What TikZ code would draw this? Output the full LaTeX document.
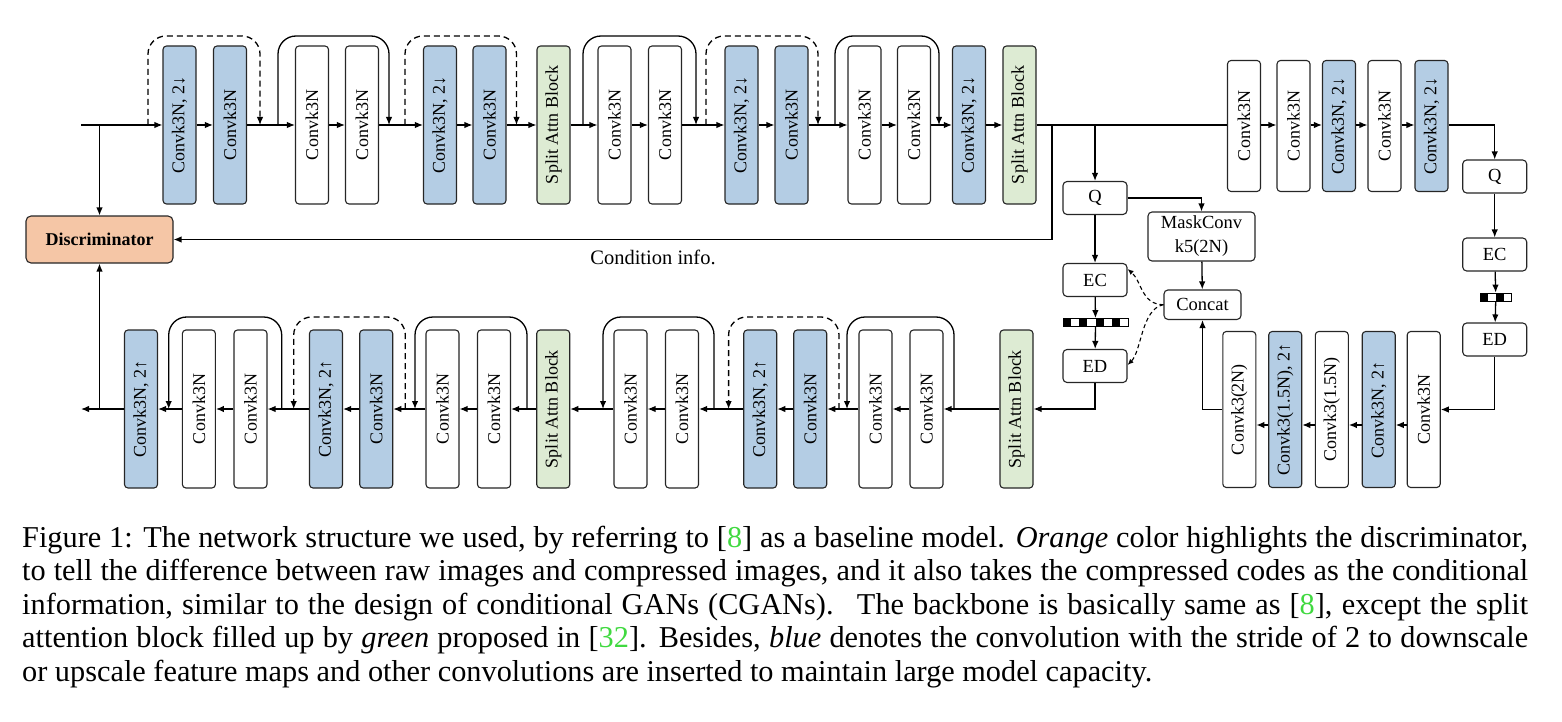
\documentclass[tikz,border=0pt]{standalone}
\usepackage{fontspec}
\usepackage{graphicx}
\setmainfont{Liberation Serif}
\usetikzlibrary{arrows.meta,calc}
\definecolor{bbl}{HTML}{B4CDE4}
\definecolor{ggr}{HTML}{DDEBD3}
\definecolor{oor}{HTML}{F5C6A6}
\definecolor{citeg}{rgb}{0.25,0.85,0.25}
\newcommand{\vtxt}[1]{\rotatebox{90}{#1}}
\newcommand{\cit}[1]{[{\color{citeg}#1}]}
\tikzset{
 blk/.style={draw=black!85, line width=1.1pt, rounded corners=3.5pt, minimum width=33pt, minimum height=158pt, inner sep=0pt, font=\fontsize{18}{20}\selectfont},
 wb/.style={blk, fill=white},
 bb/.style={blk, fill=bbl},
 gb/.style={blk, fill=ggr},
 rw/.style={wb, minimum height=131pt},
 rbb/.style={bb, minimum height=131pt},
 qw/.style={wb, minimum height=156pt},
 qb/.style={bb, minimum height=156pt},
 sbox/.style={draw=black!85, line width=1.1pt, rounded corners=4pt, minimum width=64pt, minimum height=33pt, inner sep=0pt, font=\fontsize{18.5}{24}\selectfont, fill=white},
 arr/.style={line width=1.3pt, -{Latex[length=8pt,width=6.5pt]}},
 ln/.style={line width=1.3pt},
 sk/.style={line width=1.3pt, rounded corners=18pt, -{Latex[length=8pt,width=6.5pt]}},
 dsk/.style={sk, dash pattern=on 6pt off 4pt},
 dcurve/.style={line width=1.1pt, dash pattern=on 4pt off 3pt, -{Latex[length=6pt,width=5pt]}},
}
\begin{document}
\begin{tikzpicture}[x=1pt,y=-1pt]
\useasboundingbox (0,0) rectangle (1562,722);
% ---------- top row ----------
\node[bb] (t1) at (179.5,125) {\vtxt{Convk3N, 2↓}};
\node[bb] (t2) at (230,125) {\vtxt{Convk3N}};
\node[wb] (t3) at (312,125) {\vtxt{Convk3N}};
\node[wb] (t4) at (362,125) {\vtxt{Convk3N}};
\node[bb] (t5) at (440,125) {\vtxt{Convk3N, 2↓}};
\node[bb] (t6) at (489.5,125) {\vtxt{Convk3N}};
\node[gb] (t7) at (553.5,125) {\vtxt{Split Attn Block}};
\node[wb] (t8) at (614.5,125) {\vtxt{Convk3N}};
\node[wb] (t9) at (665,125) {\vtxt{Convk3N}};
\node[bb] (t10) at (741.5,125) {\vtxt{Convk3N, 2↓}};
\node[bb] (t11) at (791.5,125) {\vtxt{Convk3N}};
\node[wb] (t12) at (864.5,125) {\vtxt{Convk3N}};
\node[wb] (t13) at (914,125) {\vtxt{Convk3N}};
\node[bb] (t14) at (969,125) {\vtxt{Convk3N, 2↓}};
\node[gb] (t15) at (1019.5,125) {\vtxt{Split Attn Block}};
% ---------- hyper encoder ----------
\node[rw] (r1) at (1244,126) {\vtxt{Convk3N}};
\node[rw] (r2) at (1293.5,126) {\vtxt{Convk3N}};
\node[rbb] (r3) at (1339,126) {\vtxt{Convk3N, 2↓}};
\node[rw] (r4) at (1384.5,126) {\vtxt{Convk3N}};
\node[rbb] (r5) at (1431.5,126) {\vtxt{Convk3N, 2↓}};
% ---------- bottom row ----------
\node[bb] (b1) at (141,409) {\vtxt{Convk3N, 2↑}};
\node[wb] (b2) at (198.9,409) {\vtxt{Convk3N}};
\node[wb] (b3) at (250.5,409) {\vtxt{Convk3N}};
\node[bb] (b4) at (326,409) {\vtxt{Convk3N, 2↑}};
\node[bb] (b5) at (376.2,409) {\vtxt{Convk3N}};
\node[wb] (b6) at (442.5,409) {\vtxt{Convk3N}};
\node[wb] (b7) at (494,409) {\vtxt{Convk3N}};
\node[gb] (b8) at (553.2,409) {\vtxt{Split Attn Block}};
\node[wb] (b9) at (630.5,409) {\vtxt{Convk3N}};
\node[wb] (b10) at (682,409) {\vtxt{Convk3N}};
\node[bb] (b11) at (760.2,409) {\vtxt{Convk3N, 2↑}};
\node[bb] (b12) at (810.2,409) {\vtxt{Convk3N}};
\node[wb] (b13) at (875.5,409) {\vtxt{Convk3N}};
\node[wb] (b14) at (926.5,409) {\vtxt{Convk3N}};
\node[gb] (b15) at (1016.5,409) {\vtxt{Split Attn Block}};
% ---------- hyper decoder ----------
\node[qw] (br1) at (1239.3,409.5) {\vtxt{Convk3(2N)}};
\node[qb] (br2) at (1285.2,409.5) {\vtxt{Convk3(1.5N), 2↑}};
\node[qw] (br3) at (1331.8,409.5) {\vtxt{Convk3(1.5N)}};
\node[qb] (br4) at (1378.7,409.5) {\vtxt{Convk3N, 2↑}};
\node[qw] (br5) at (1423.7,409.5) {\vtxt{Convk3N}};
% ---------- small boxes ----------
\node[sbox] (Q1) at (1095,198) {Q};
\node[sbox] (EC1) at (1095,280) {EC};
\node[sbox] (ED1) at (1095,366) {ED};
\node[sbox, minimum width=107pt, minimum height=49pt, align=center] (mask) at (1201.5,236.5) {MaskConv\\k5(2N)};
\node[sbox, minimum width=77pt, minimum height=29.5pt] (concat) at (1202.5,304.7) {Concat};
\node[sbox] (Q2) at (1494.7,176.5) {Q};
\node[sbox] (EC2) at (1494.7,254.5) {EC};
\node[sbox] (ED2) at (1494.7,339.5) {ED};
\node[draw=black!85, line width=1.1pt, fill=oor, rounded corners=5pt, minimum width=147pt, minimum height=47pt, font=\bfseries\fontsize{18}{21}\selectfont] (disc) at (99.5,239.5) {Discriminator};
% quantized bars
\foreach \i in {0,2,4,6} \fill (1063+\i*8.125,318.5) rectangle ++(8.125,7.5);
\node[draw=black, line width=0.8pt, minimum width=65pt, minimum height=7.5pt, inner sep=0pt] (bar1) at (1095.5,322.25) {};
\foreach \i in {0,2} \fill (1480+\i*7.9,293) rectangle ++(7.9,8.5);
\node[draw=black, line width=0.8pt, minimum width=31.6pt, minimum height=8.5pt, inner sep=0pt] (bar2) at (1495.8,297.25) {};
% ---------- coordinates ----------
\coordinate (in) at (81,125);
\coordinate (out) at (81,409);
\coordinate (cj) at (1052,125);
\coordinate (brl) at (0,425);
% ---------- top row connectors ----------
\draw[arr] (in) -- (t1.west);
\draw[arr] (disc.north |- in) -- (disc.north);
\foreach \a/\b in {t1/t2,t2/t3,t3/t4,t4/t5,t5/t6,t6/t7,t7/t8,t8/t9,t9/t10,t10/t11,t11/t12,t12/t13,t13/t14,t14/t15}
  \draw[arr] (\a.east) -- (\b.west);
\foreach \a/\b in {r1/r2,r2/r3,r3/r4,r4/r5}
  \draw[arr] (\a.east |- t15.east) -- (\b.west |- t15.east);
\draw[ln] (t15.east) -- (r1.west |- t15.east);
\draw[arr] (cj) |- (disc.east);
\node[font=\fontsize{20.5}{24}\selectfont] (cond) at (653,257) {Condition info.};
\draw[arr] (Q1.north |- t15.east) -- (Q1.north);
\draw[arr] (r5.east |- t15.east) -| (Q2.north);
\draw[arr] (Q2) -- (EC2);
\draw[arr] (EC2) -- (bar2);
\draw[arr] (bar2) -- (ED2);
\draw[arr] (ED2.south) |- (br5.east);
\foreach \a/\b in {br5/br4,br4/br3,br3/br2,br2/br1}
  \draw[arr] (\a.west |- brl) -- (\b.east |- brl);
\draw[arr] (br1.west) -| (concat.south);
\draw[arr] (Q1.east) -| (mask.north);
\draw[arr] (mask) -- (concat);
\draw[arr] (Q1) -- (EC1);
\draw[arr] (EC1) -- (bar1);
\draw[arr] (bar1) -- (ED1);
\draw[dcurve] (concat.west) .. controls +(-22,0) and +(14,12) .. ([yshift=11pt]EC1.east);
\draw[dcurve] (concat.west) .. controls +(-22,4) and +(14,-14) .. ([yshift=1pt]ED1.east);
% ---------- bottom row connectors ----------
\draw[arr] (ED1.south) |- (b15.east);
\foreach \a/\b in {b15/b14,b14/b13,b13/b12,b12/b11,b11/b10,b10/b9,b9/b8,b8/b7,b7/b6,b6/b5,b5/b4,b4/b3,b3/b2,b2/b1}
  \draw[arr] (\a.west) -- (\b.east);
\draw[arr] (b1.west) -- (out);
\draw[arr] (disc.south |- out) -- (disc.south);
% ---------- skip loops, top ----------
\foreach \s/\e/\st in {148/260/dsk,278/389/sk,405/516.5/dsk,583/696/sk,706/818/dsk,835/939/sk}
  \draw[\st] (\s,125) -- (\s,36) -| (\e,125);
% ---------- skip loops, bottom ----------
\foreach \s/\e/\st in {954/847/sk,839/728.6/dsk,714/603/sk,527/415/sk,405.3/293.7/dsk,281.7/168.7/sk}
  \draw[\st] (\s,409) -- (\s,317) -| (\e,409);
% ---------- caption ----------
\node[anchor=base west, inner sep=0pt, font=\fontsize{30.3}{33.5}\selectfont] (cap) at (22,547) {%
\begin{minipage}[t]{1506pt}\baselineskip=33.5pt
\hbox to\linewidth{Figure 1: The network structure we used, by referring to \cit{8} as a baseline model. \textit{Orange} color highlights the discriminator,}
\hbox to\linewidth{to tell the difference between raw images and compressed images, and it also takes the compressed codes as the conditional}
\hbox to\linewidth{information, similar to the design of conditional GANs (CGANs). \ The backbone is basically same as \cit{8}, except the split}
\hbox to\linewidth{attention block filled up by \textit{green} proposed in \cit{32}. Besides, \textit{blue} denotes the convolution with the stride of 2 to downscale}
\hbox{or upscale feature maps and other convolutions are inserted to maintain large model capacity.}
\end{minipage}};
\end{tikzpicture}
\end{document}
